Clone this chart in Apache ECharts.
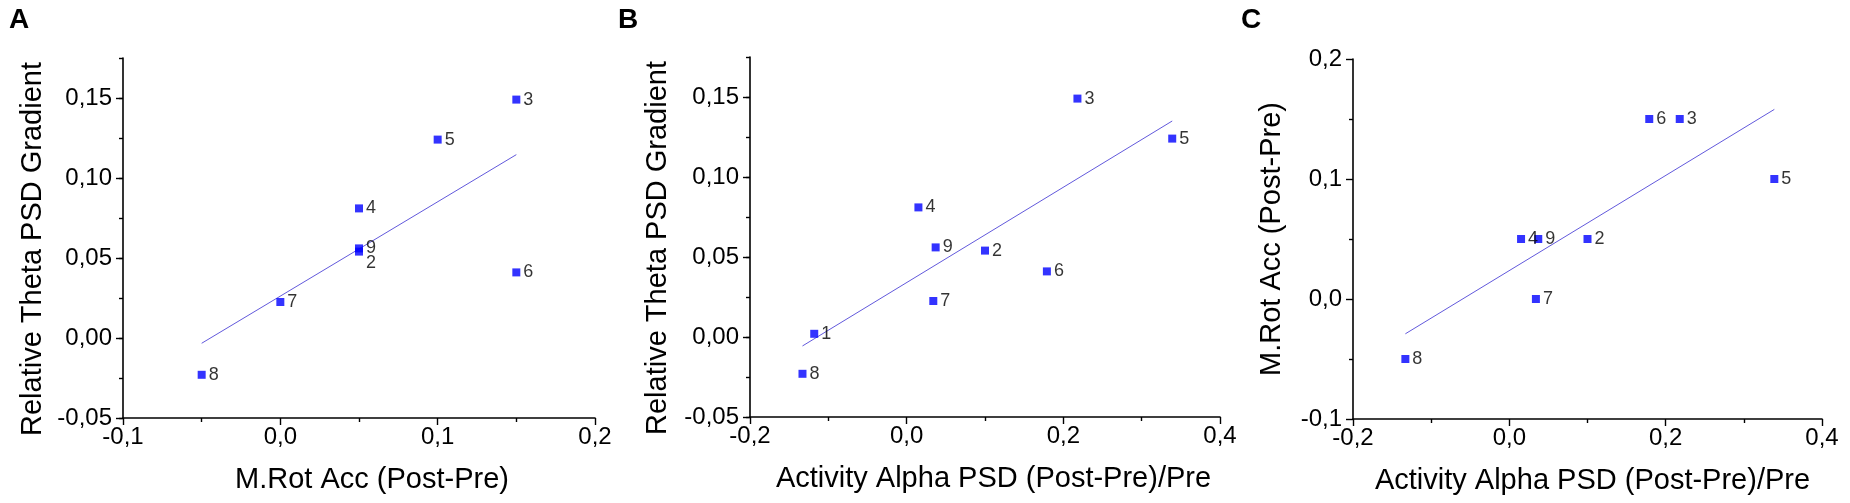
<!DOCTYPE html>
<html>
    <head>
        <meta charset="UTF-8">
        <title>PSD correlations</title>
        <script src="https://cdn.jsdelivr.net/npm/echarts@6/dist/echarts.min.js"></script>
        <style>
            html, body { margin: 0; padding: 0; background: #fff; }
        </style>
    </head>
    <body>
        <div id="chart" style="width: 1850px; height: 503px;"></div>
        <script>
            // subject numbers (point labels)
            const subjects = ['1', '2', '3', '4', '5', '6', '7', '8', '9'];
            // M.Rot Acc (Post-Pre); subject 1 has no value
            const rotAcc = [null, 0.05, 0.15, 0.05, 0.10, 0.15, 0.00, -0.05, 0.05];
            // Activity Alpha PSD (Post-Pre)/Pre
            const alphaPsd = [-0.118, 0.100, 0.218, 0.015, 0.339, 0.179, 0.034, -0.133, 0.037];
            // Relative Theta PSD Gradient
            const thetaGrad = [0.002, 0.054, 0.149, 0.081, 0.124, 0.041, 0.0225, -0.023, 0.056];

            // fitted lines, end points
            const fitAx = [-0.05, 0.15];
            const fitAy = [-0.0033, 0.1146];
            const fitBx = [-0.133, 0.339];
            const fitBy = [-0.0056, 0.135];
            const fitCx = [-0.133, 0.339];
            const fitCy = [-0.029, 0.158];

            // tick labels
            const thetaTicks = [-0.05, 0.00, 0.05, 0.10, 0.15];
            const rotAccXTicks = [-0.1, 0.0, 0.1, 0.2];
            const alphaTicks = [-0.2, 0.0, 0.2, 0.4];
            const rotAccYTicks = [-0.1, 0.0, 0.1, 0.2];

            const FONT = 'Liberation Sans, Arial, Helvetica, sans-serif';
            const comma = (d) => (v) => v.toFixed(d).replace('.', ',');

            function points(xs, ys, labelOffsets) {
                const out = [];
                subjects.forEach((s, i) => {
                    if (xs[i] == null || ys[i] == null) return;
                    const item = { name: s, value: [xs[i], ys[i]] };
                    if (labelOffsets && labelOffsets[s]) item.label = { offset: labelOffsets[s] };
                    out.push(item);
                });
                return out;
            }

            function xAxis(gridIndex, ticks, digits, name, shift) {
                return {
                    type: 'value', gridIndex: gridIndex,
                    min: ticks[0], max: ticks[ticks.length - 1], interval: ticks[1] - ticks[0],
                    splitLine: { show: false },
                    axisLine: { onZero: false, lineStyle: { color: '#000', width: 1.6 } },
                    axisTick: { length: 7, lineStyle: { color: '#000', width: 1.4 } },
                    minorTick: { show: true, splitNumber: 2, length: 4, lineStyle: { color: '#000', width: 1.4 } },
                    axisLabel: { color: '#000', fontSize: 24, fontFamily: FONT, margin: 7, formatter: comma(digits) },
                    name: name, nameLocation: 'middle', nameGap: 47,
                    nameTextStyle: { color: '#000', fontSize: 29, fontFamily: FONT, padding: [0, 0, 0, shift] }
                };
            }

            function yAxis(gridIndex, ticks, digits, top, name, gap, shift, minorOnly) {
                const step = ticks[1] - ticks[0];
                const axis = {
                    type: 'value', gridIndex: gridIndex, position: 'left',
                    min: ticks[0], max: top, interval: minorOnly ? step / 2 : step,
                    splitLine: { show: false },
                    axisLine: { onZero: false, lineStyle: { color: '#000', width: 1.6 } },
                    axisTick: { length: minorOnly ? 4 : 7, lineStyle: { color: '#000', width: 1.4 } },
                    axisLabel: {
                        color: '#000', fontSize: 24, fontFamily: FONT, margin: 11,
                        customValues: ticks, formatter: comma(digits)
                    },
                    name: name, nameLocation: 'middle', nameGap: gap,
                    nameTextStyle: { color: '#000', fontSize: 29, fontFamily: FONT, padding: [0, shift, 0, 0] }
                };
                if (!minorOnly) {
                    axis.minorTick = { show: true, splitNumber: 2, length: 4, lineStyle: { color: '#000', width: 1.4 } };
                }
                return axis;
            }

            // overlay axis that draws only the long ticks on the theta axes
            function majorTickAxis(gridIndex, ticks, top) {
                return {
                    type: 'value', gridIndex: gridIndex, position: 'left',
                    min: ticks[0], max: top, interval: (ticks[1] - ticks[0]) / 2,
                    splitLine: { show: false },
                    axisLine: { show: false, onZero: false },
                    axisTick: { length: 7, customValues: ticks, lineStyle: { color: '#000', width: 1.4 } },
                    axisLabel: { show: false }
                };
            }

            function scatter(xi, yi, data) {
                return {
                    type: 'scatter', xAxisIndex: xi, yAxisIndex: yi,
                    symbol: 'rect', symbolSize: 8,
                    itemStyle: { color: '#0000ff' },
                    label: {
                        show: true, position: 'right', distance: 3,
                        formatter: '{b}', color: '#000', fontSize: 18, fontFamily: FONT
                    },
                    data: data, z: 3
                };
            }

            function fit(xi, yi, xs, ys) {
                return {
                    type: 'line', xAxisIndex: xi, yAxisIndex: yi,
                    showSymbol: false, silent: true,
                    lineStyle: { color: '#6259dc', width: 1 },
                    data: xs.map((x, i) => [x, ys[i]]), z: 2
                };
            }

            const chart = echarts.init(document.getElementById('chart'));
            const letterStyle = { color: '#000', fontSize: 28, fontWeight: 'bold', fontFamily: FONT };
            chart.setOption({
                backgroundColor: '#fff',
                animation: false,
                title: [
                    { text: 'A', left: 9, top: 6, padding: 0, textStyle: letterStyle },
                    { text: 'B', left: 618, top: 6, padding: 0, textStyle: letterStyle },
                    { text: 'C', left: 1241, top: 6, padding: 0, textStyle: letterStyle }
                ],
                grid: [
                    { left: 123, top: 58, width: 472, height: 360, outerBoundsMode: 'none' },
                    { left: 750, top: 57, width: 470, height: 360, outerBoundsMode: 'none' },
                    { left: 1353, top: 59, width: 469, height: 360, outerBoundsMode: 'none' }
                ],
                xAxis: [
                    xAxis(0, rotAccXTicks, 1, 'M.Rot Acc (Post-Pre)', 26),
                    xAxis(1, alphaTicks, 1, 'Activity Alpha PSD (Post-Pre)/Pre', 17),
                    xAxis(2, alphaTicks, 1, 'Activity Alpha PSD (Post-Pre)/Pre', 10)
                ],
                yAxis: [
                    yAxis(0, thetaTicks, 2, 0.175, 'Relative Theta PSD Gradient', 76, 22, true),
                    majorTickAxis(0, thetaTicks, 0.175),
                    yAxis(1, thetaTicks, 2, 0.175, 'Relative Theta PSD Gradient', 78, 22, true),
                    majorTickAxis(1, thetaTicks, 0.175),
                    yAxis(2, rotAccYTicks, 1, 0.2, 'M.Rot Acc (Post-Pre)', 67, 0, false)
                ],
                series: [
                    fit(0, 0, fitAx, fitAy),
                    scatter(0, 0, points(rotAcc, thetaGrad, { '2': [0, 11] })),
                    fit(1, 2, fitBx, fitBy),
                    scatter(1, 2, points(alphaPsd, thetaGrad)),
                    fit(2, 4, fitCx, fitCy),
                    scatter(2, 4, points(alphaPsd, rotAcc))
                ]
            });
        </script>
    </body>
</html>
